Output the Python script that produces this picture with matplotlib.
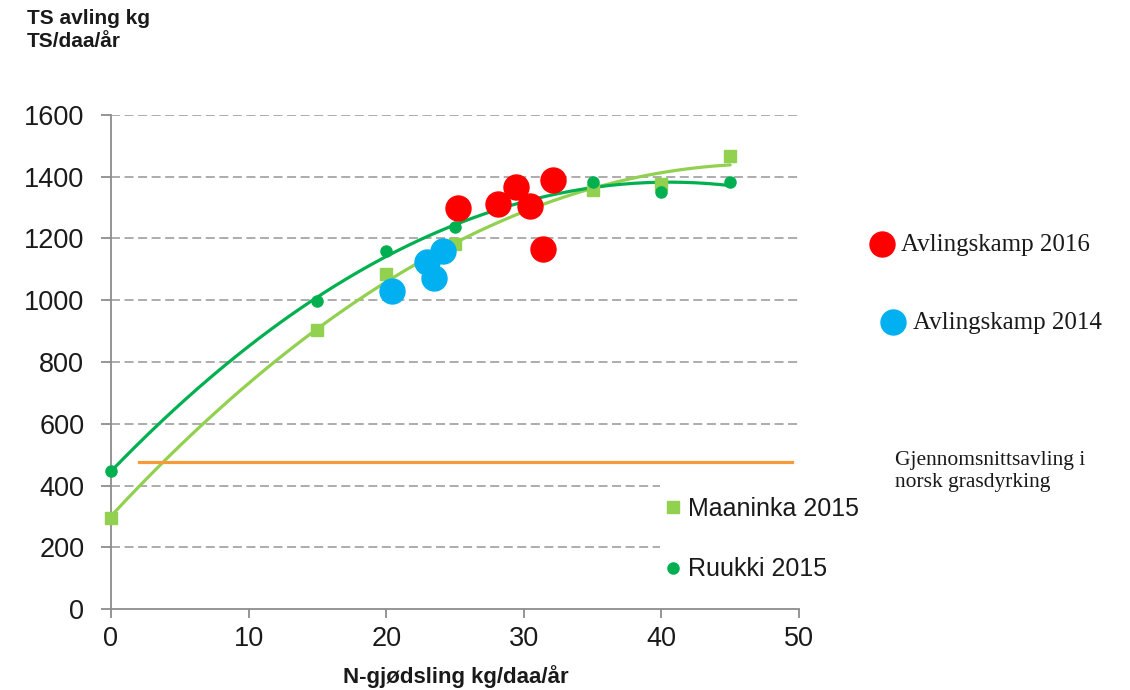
import numpy as np
import matplotlib
matplotlib.use("Agg")
import matplotlib.pyplot as plt
from matplotlib.lines import Line2D
from matplotlib.patches import Rectangle

# ---- data ----
maaninka_x = [0, 15, 20, 25, 35, 40, 45]
maaninka_y = [296, 904, 1086, 1182, 1356, 1376, 1468]
ruukki_x = [0, 15, 20, 25, 35, 40, 45]
ruukki_y = [447, 997, 1161, 1236, 1384, 1352, 1384]
kamp2016_x = [25.25, 28.1, 29.45, 30.45, 31.4, 32.15]
kamp2016_y = [1299, 1313, 1367, 1304, 1166, 1388]
kamp2014_x = [20.45, 22.95, 23.5, 24.15]
kamp2014_y = [1031, 1124, 1072, 1161]
avg_norsk = 477
avg_x_range = [2, 49.5]
x_ticks = [0, 10, 20, 30, 40, 50]
y_ticks = [0, 200, 400, 600, 800, 1000, 1200, 1400, 1600]

C_LIGHT = "#92D050"
C_DARK = "#00B050"
C_RED = "#FF0000"
C_BLUE = "#00B0F0"
C_ORANGE = "#F79A3A"
GRID = "#A6A6A6"
AX = "#8C8C8C"

W, H = 1130, 690
fig = plt.figure(figsize=(W / 100, H / 100), dpi=100)
ax = fig.add_axes([111 / W, 1 - 609 / H, 688 / W, 494 / H])
ax.set_xlim(0, 50)
ax.set_ylim(0, 1600)

sans = "Liberation Sans"
serif = "Liberation Serif"

# grid
for yv in y_ticks[1:]:
    ax.axhline(yv, color=GRID, lw=1.3, ls=(0, (5, 2.5)), zorder=1)

# white legend box area (covers grid lines, as in the original)
ax.add_patch(Rectangle((660 / W, 1 - 600 / H), 210 / W, 130 / H, transform=fig.transFigure,
                       facecolor="white", edgecolor="none", zorder=2, clip_on=False))

# trend lines (2nd order polynomial fits)
xs = np.linspace(0, 45, 200)
pm = np.polyfit(maaninka_x, maaninka_y, 2)
pr = np.polyfit(ruukki_x, ruukki_y, 2)
ax.plot(xs, np.polyval(pm, xs), color=C_LIGHT, lw=2.3, zorder=3, solid_capstyle="round")
ax.plot(xs, np.polyval(pr, xs), color=C_DARK, lw=2.3, zorder=3, solid_capstyle="round")

ax.plot(maaninka_x, maaninka_y, ls="none", marker="s", ms=8, color=C_LIGHT, zorder=4, clip_on=False)
ax.plot(ruukki_x, ruukki_y, ls="none", marker="o", ms=8, color=C_DARK, zorder=4, clip_on=False)

ax.plot(avg_x_range, [avg_norsk, avg_norsk], color=C_ORANGE, lw=2.3, zorder=3)

ax.plot(kamp2016_x, kamp2016_y, ls="none", marker="o", ms=18, color=C_RED, zorder=5)
ax.plot(kamp2014_x, kamp2014_y, ls="none", marker="o", ms=18, color=C_BLUE, zorder=5)

# axes styling
for s in ["top", "right"]:
    ax.spines[s].set_visible(False)
for s in ["left", "bottom"]:
    ax.spines[s].set_color(AX)
    ax.spines[s].set_linewidth(1.3)
ax.set_xticks(x_ticks)
ax.set_yticks(y_ticks)
ax.tick_params(axis="y", length=7.2, width=1.3, color=AX, pad=12, labelsize=19.5)
ax.tick_params(axis="x", length=6.5, width=1.3, color=AX, pad=6, labelsize=19.5)
for lab in ax.get_xticklabels() + ax.get_yticklabels():
    lab.set_fontfamily(sans)
    lab.set_color("#1a1a1a")

# titles
fig.text(27 / W, 1 - 9 / H, "TS avling kg\nTS/daa/år", ha="left", va="top",
         fontsize=15, fontweight="bold", family=sans, linespacing=1.25, color="#1a1a1a")
fig.text(456 / W, 1 - 677 / H, "N-gjødsling kg/daa/år", ha="center", va="center",
         fontsize=16, fontweight="bold", family=sans, color="#1a1a1a")

# legend for 2015 series
handles = [Line2D([], [], ls="none", marker="s", ms=8, color=C_LIGHT),
           Line2D([], [], ls="none", marker="o", ms=8, color=C_DARK)]
leg = fig.legend(handles, ["Maaninka 2015", "Ruukki 2015"], loc="upper left",
                 bbox_to_anchor=(655 / W, 1 - 487 / H), bbox_transform=fig.transFigure,
                 prop={"family": sans, "size": 18}, frameon=False,
                 labelspacing=1.45, handlelength=0.6, handletextpad=0.3,
                 borderpad=0.4, borderaxespad=0)
for t in leg.get_texts():
    t.set_color("#1a1a1a")

# Avlingskamp labels
fig.add_artist(Line2D([882 / W], [1 - 244 / H], ls="none", marker="o", ms=18,
                      color=C_RED, transform=fig.transFigure))
fig.text(901 / W, 1 - 245 / H, "Avlingskamp 2016", ha="left", va="center",
         fontsize=18, family=serif, color="#1a1a1a")
fig.add_artist(Line2D([893 / W], [1 - 322 / H], ls="none", marker="o", ms=18,
                      color=C_BLUE, transform=fig.transFigure))
fig.text(913 / W, 1 - 323 / H, "Avlingskamp 2014", ha="left", va="center",
         fontsize=18, family=serif, color="#1a1a1a")

fig.text(895 / W, 1 - 451 / H, "Gjennomsnittsavling i\nnorsk grasdyrking", ha="left",
         va="top", fontsize=15.5, family=serif, linespacing=1.25, color="#1a1a1a",
         transform=fig.transFigure)

fig.savefig("out.png", dpi=100)
